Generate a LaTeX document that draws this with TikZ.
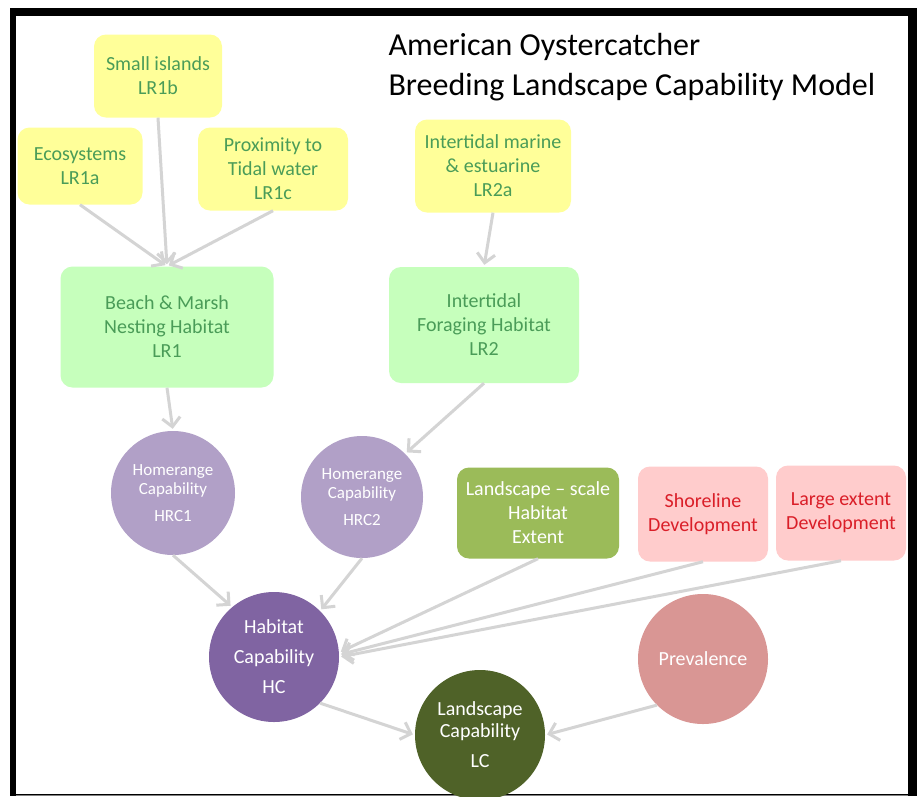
\documentclass[tikz,border=0pt]{standalone}
\usepackage{fontspec}
\setmainfont{Carlito}
\usepackage{tikz}
\usetikzlibrary{arrows.meta}
\definecolor{boxyellow}{RGB}{255, 255, 153}
\definecolor{boxmint}{RGB}{198, 255, 188}
\definecolor{leafgreen}{RGB}{74, 156, 88}
\definecolor{lilac}{RGB}{177, 160, 199}
\definecolor{plum}{RGB}{128, 100, 162}
\definecolor{olive}{RGB}{79, 98, 40}
\definecolor{grass}{RGB}{155, 187, 89}
\definecolor{blush}{RGB}{255, 204, 204}
\definecolor{alertred}{RGB}{218, 30, 40}
\definecolor{rosewood}{RGB}{217, 150, 148}
\definecolor{arrowgray}{RGB}{212, 212, 212}

\tikzset{
    inbox/.style={rounded corners=12pt, align=center, inner sep=2pt,
        font=\fontsize{20}{24}\selectfont},
    leafbox/.style={inbox, fill=boxyellow, text=leafgreen},
    habbox/.style={inbox, fill=boxmint, text=leafgreen},
    devbox/.style={inbox, fill=blush, text=alertred},
    capnode/.style={circle, align=center, text=white, inner sep=0pt},
    flow/.style={draw=arrowgray, line width=3pt,
        -{Straight Barb[length=9pt, width=18pt, line width=3pt]}, shorten >=2pt}
}

\begin{document}
\begin{tikzpicture}[x=1pt, y=-1pt]
    \useasboundingbox (0,0) rectangle (920,796);
    \fill[white] (0,0) rectangle (920,796);
    % frame
    \fill[black] (10,8) rectangle (917,796);
    \fill[white] (16,16) rectangle (908,794);
    \draw[gray, line width=1pt] (16,795) -- (908,795);

    \node[anchor=north west, align=left, font=\fontsize{32}{40}\selectfont] (title) at (385,30)
        {American Oystercatcher\\Breeding Landscape Capability Model};

    % inputs
    \node[leafbox, minimum width=128pt, minimum height=83pt] (lr1b) at (158,76) {Small islands\\LR1b};
    \node[leafbox, minimum width=125pt, minimum height=77pt] (lr1a) at (80,166) {Ecosystems\\LR1a};
    \node[leafbox, minimum width=150pt, minimum height=83pt] (lr1c) at (273,169) {Proximity to\\Tidal water\\LR1c};
    \node[leafbox, minimum width=156pt, minimum height=93pt] (lr2a) at (493,166) {Intertidal marine\\\& estuarine\\LR2a};

    \node[habbox, minimum width=213pt, minimum height=121pt] (lr1) at (167,327) {Beach \& Marsh\\Nesting Habitat\\LR1};
    \node[habbox, minimum width=190pt, minimum height=116pt] (lr2) at (484,325) {Intertidal\\Foraging Habitat\\LR2};

    \node[capnode, fill=lilac, minimum size=124pt, font=\fontsize{17}{19}\selectfont] (hrc1) at (173,493)
        {Homerange\\Capability\\[8pt]HRC1};
    \node[capnode, fill=lilac, minimum size=122pt, font=\fontsize{17}{19}\selectfont] (hrc2) at (362,497)
        {Homerange\\Capability\\[8pt]HRC2};

    \node[inbox, fill=grass, text=white, minimum width=162pt, minimum height=91pt] (extent) at (538,513)
        {Landscape -- scale\\Habitat\\Extent};
    \node[devbox, minimum width=130pt, minimum height=95pt] (shore) at (703,514) {Shoreline\\Development};
    \node[devbox, minimum width=130pt, minimum height=95pt] (large) at (841,513) {Large extent\\Development};

    \node[capnode, fill=plum, minimum size=130pt, font=\fontsize{20}{30}\selectfont] (hc) at (274,657)
        {Habitat\\Capability\\HC};
    \node[capnode, fill=rosewood, minimum size=130pt, font=\fontsize{20}{24}\selectfont] (prev) at (703,659)
        {Prevalence};
    \node[capnode, fill=olive, minimum size=130pt, font=\fontsize{20}{22}\selectfont] (lc) at (480,735)
        {Landscape\\Capability\\[8pt]LC};

    % connectors
    \draw[flow] (lr1a.south) -- (lr1.north);
    \draw[flow] (lr1b.south) -- (lr1.north);
    \draw[flow] (lr1c.south) -- (lr1.north);
    \draw[flow] (lr2a.south) -- (lr2.north);
    \draw[flow] (lr1.south) -- (hrc1.north);
    \draw[flow] (lr2.south) -- (hrc2.north east);
    \draw[flow] (hrc1.south) -- (hc.130);
    \draw[flow] (hrc2.south) -- (hc.north east);
    \draw[flow] (extent.south) -- (hc.4);
    \draw[flow] (shore.south) -- (hc.2);
    \draw[flow] (large.south) -- (hc.east);
    \draw[flow] (hc.south east) -- (lc.west);
    \draw[flow] (prev.south west) -- (lc.east);
\end{tikzpicture}
\end{document}
